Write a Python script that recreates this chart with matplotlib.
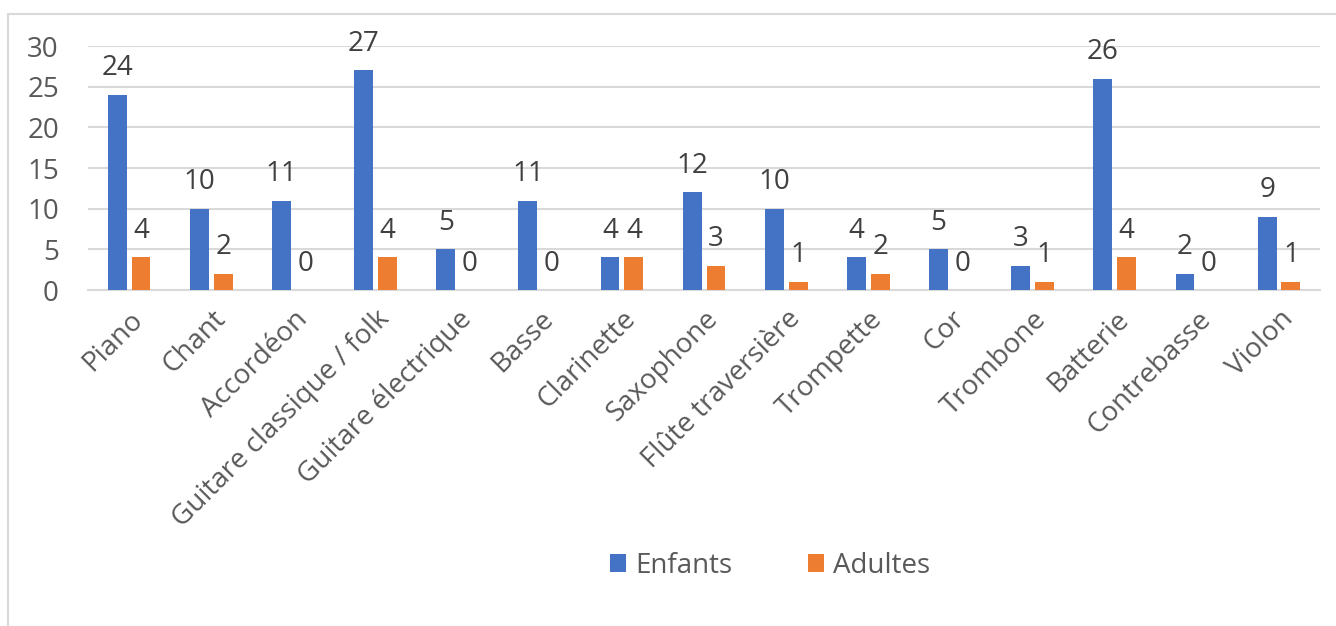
import matplotlib
matplotlib.use('Agg')
import matplotlib.pyplot as plt
from matplotlib.patches import Rectangle
import numpy as np

instruments = ['Piano', 'Chant', 'Accordéon', 'Guitare classique / folk',
               'Guitare électrique', 'Basse', 'Clarinette', 'Saxophone',
               'Flûte traversière', 'Trompette', 'Cor', 'Trombone',
               'Batterie', 'Contrebasse', 'Violon']
enfants = [24, 10, 11, 27, 5, 11, 4, 12, 10, 4, 5, 3, 26, 2, 9]
adultes = [4, 2, 0, 4, 0, 0, 4, 3, 1, 2, 0, 1, 4, 0, 1]

plt.rcParams['font.family'] = ['Open Sans', 'DejaVu Sans']
fs = 20

fig = plt.figure(figsize=(13.36, 6.26), dpi=100)
ax = fig.add_axes([0.0659, 0.5367, 0.9222, 0.3898])

x = np.arange(len(instruments))
w = 0.23
b1 = ax.bar(x - w / 2 - 0.03, enfants, w, color='#4472c4', label='Enfants', zorder=3)
b2 = ax.bar(x + w / 2 + 0.03, adultes, w, color='#ed7d31', label='Adultes', zorder=3)

# etiquetas de valores encima de cada barra
for bars in (b1, b2):
    for bar in bars:
        h = bar.get_height()
        ax.annotate(f'{h:.0f}', xy=(bar.get_x() + bar.get_width() / 2, h),
                    xytext=(0, 9), textcoords='offset points',
                    ha='center', va='bottom', fontsize=fs, color='#404040')

ax.set_xlim(-0.5, len(instruments) - 0.5)
ax.set_ylim(0, 30)
ax.set_yticks(range(0, 31, 5))
ax.yaxis.grid(True, color='#d9d9d9', linewidth=1.5, zorder=0)
ax.tick_params(axis='y', length=0, pad=21, labelsize=fs, labelcolor='#595959')
ax.tick_params(axis='x', length=0, pad=11, labelsize=fs, labelcolor='#595959')
ax.set_xticks(x)
ax.set_xticklabels(instruments, rotation=45, ha='right', rotation_mode='anchor')
for s in ['top', 'right', 'left']:
    ax.spines[s].set_visible(False)
ax.spines['bottom'].set_color('#d9d9d9')
ax.spines['bottom'].set_linewidth(1.5)

leg = fig.legend(loc='center', bbox_to_anchor=(770 / 1336, 1 - 566 / 626), ncol=2,
                 frameon=False, fontsize=fs, handlelength=0.6, handleheight=0.6,
                 columnspacing=2.7, handletextpad=0.33)
for t in leg.get_texts():
    t.set_color('#595959')

# marco del grafico (cortado a la derecha y abajo)
fig.add_artist(Rectangle((8 / 1336, -0.1), 1.1, 1.1 - 14 / 626,
                         transform=fig.transFigure, fill=False,
                         edgecolor='#d9d9d9', linewidth=1.5))

fig.savefig('out.png', dpi=100)
